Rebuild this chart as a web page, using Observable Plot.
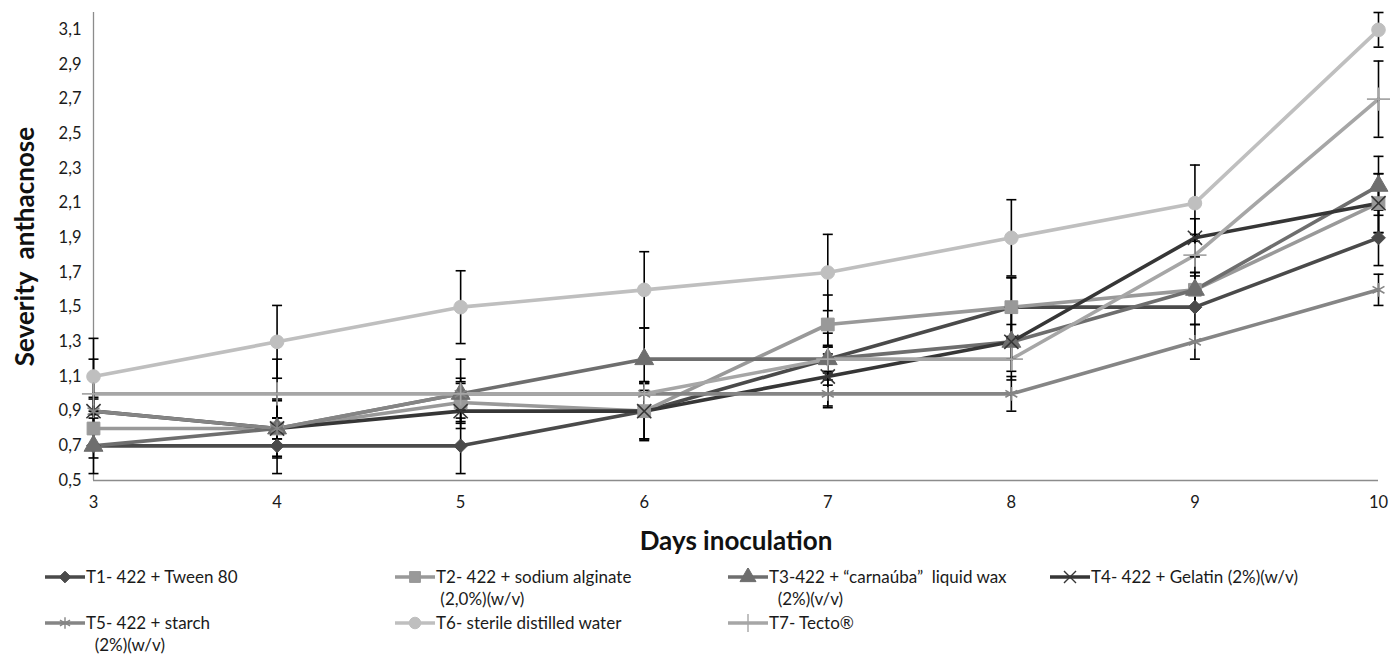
<!DOCTYPE html>
<html>
<head>
<meta charset="utf-8">
<script src="https://cdn.jsdelivr.net/npm/d3@7"></script>
<script src="https://cdn.jsdelivr.net/npm/@observablehq/plot@0.6"></script>
<style>
  body { margin: 0; background: #fff; }
  #wrap { position: relative; width: 1390px; height: 658px; font-family: Lato, "Open Sans", sans-serif; overflow: hidden; }
  #chart svg { display: block; }
  g[aria-label="x-axis label"] text, g[aria-label="y-axis label"] text { font-weight: 700; font-size: 26px; fill: #111; }
  .li { position: absolute; font-size: 17px; color: #1a1a1a; white-space: pre; line-height: 22px; transform: translateY(-50%); }
  .lk { position: absolute; transform: translateY(-50%); }
</style>
</head>
<body>
<div id="wrap">
  <div id="chart"></div>
</div>
<script>
// ---------- data ----------
const days = [3, 4, 5, 6, 7, 8, 9, 10];
const yTicks = [0.5, 0.7, 0.9, 1.1, 1.3, 1.5, 1.7, 1.9, 2.1, 2.3, 2.5, 2.7, 2.9, 3.1];

const seriesNames = [
  "T1- 422 + Tween 80",
  "T2- 422 + sodium alginate (2,0%)(w/v)",
  "T3-422 + “carnaúba”  liquid wax (2%)(v/v)",
  "T4- 422 + Gelatin (2%)(w/v)",
  "T5- 422 + starch (2%)(w/v)",
  "T6- sterile distilled water",
  "T7- Tecto®"
];

const t1 = [0.7, 0.7, 0.7, 0.9, 1.2, 1.5, 1.5, 1.9];
const t2 = [0.8, 0.8, 0.95, 0.9, 1.4, 1.5, 1.6, 2.1];
const t3 = [0.7, 0.8, 1.0, 1.2, 1.2, 1.3, 1.6, 2.2];
const t4 = [0.9, 0.8, 0.9, 0.9, 1.1, 1.3, 1.9, 2.1];
const t5 = [0.9, 0.8, 1.0, 1.0, 1.0, 1.0, 1.3, 1.6];
const t6 = [1.1, 1.3, 1.5, 1.6, 1.7, 1.9, 2.1, 3.1];
const t7 = [1.0, 1.0, 1.0, 1.0, 1.2, 1.2, 1.8, 2.7];

const e1 = [0.16, 0.16, 0.16, 0.16, 0.15, 0.17, 0.10, 0.16];
const e2 = [0.10, 0.17, 0.12, 0.17, 0.17, 0.17, 0.10, 0.17];
const e3 = [0.07, 0.06, 0.09, 0.18, 0.08, 0.10, 0.10, 0.17];
const e4 = [0.07, 0.16, 0.06, 0.16, 0.17, 0.17, 0.11, 0.17];
const e5 = [0.08, 0.06, 0.06, 0.07, 0.08, 0.10, 0.10, 0.09];
const e6 = [0.22, 0.21, 0.21, 0.22, 0.22, 0.22, 0.22, 0.10];
const e7 = [0.20, 0.20, 0.20, 0.07, 0.07, 0.12, 0.12, 0.22];

const values = [t1, t2, t3, t4, t5, t6, t7];
const errors = [e1, e2, e3, e4, e5, e6, e7];

// ---------- styles ----------
const colors = ["#4a4a4a", "#999999", "#6e6e6e", "#363636", "#858585", "#bfbfbf", "#a6a6a6"];
const symbols = ["diamond2", "square", "triangle", "times", "asterisk", "circle", "plus"];
const filled = [true, true, true, false, false, true, false];
const radii = [6.2, 7.2, 7, 6.5, 6.5, 6.8, 7.5];

const rows = seriesNames.flatMap((name, i) =>
  days.map((d, j) => ({ series: name, idx: i, day: d, value: values[i][j], err: errors[i][j] }))
);

const capSymbol = { draw(ctx) { ctx.moveTo(-5, 0); ctx.lineTo(5, 0); } };

const lineMarks = seriesNames.map((name, i) =>
  Plot.line(rows.filter(r => r.idx === i), { x: "day", y: "value", stroke: colors[i], strokeWidth: 3.6, strokeLinejoin: "round" })
);
const errMarks = [
  Plot.ruleX(rows, { x: "day", y1: r => r.value - r.err, y2: r => r.value + r.err, stroke: "#000", strokeWidth: 1.6 }),
  Plot.dot(rows, { x: "day", y: r => r.value + r.err, symbol: capSymbol, stroke: "#000", strokeWidth: 1.6, fill: "none" }),
  Plot.dot(rows, { x: "day", y: r => r.value - r.err, symbol: capSymbol, stroke: "#000", strokeWidth: 1.6, fill: "none" })
];
const dotMarks = seriesNames.map((name, i) =>
  Plot.dot(rows.filter(r => r.idx === i), {
    x: "day", y: "value", symbol: symbols[i], r: radii[i],
    fill: filled[i] ? colors[i] : "none",
    stroke: colors[i], strokeWidth: filled[i] ? 1 : 1.6
  })
);

const chart = Plot.plot({
  width: 1390,
  height: 555,
  marginLeft: 93,
  marginRight: 12,
  marginTop: 12,
  marginBottom: 75,
  style: { fontFamily: "Lato, 'Open Sans', sans-serif", fontSize: "16.5px", color: "#1a1a1a", background: "white", overflow: "visible" },
  x: { domain: [3, 10] },
  y: { domain: [0.5, 3.2] },
  marks: [
    Plot.axisX({ ticks: days, tickSize: 0, tickPadding: 16, tickFormat: d => String(d), label: "Days inoculation", labelAnchor: "center", labelOffset: 69, labelArrow: "none" }),
    Plot.axisY({ ticks: yTicks, tickSize: 0, tickPadding: 12, tickFormat: d => d.toFixed(1).replace(".", ","), label: "Severity  anthacnose", labelAnchor: "center", labelOffset: 78, labelArrow: "none" }),
    Plot.ruleX([3], { stroke: "#8c8c8c", strokeWidth: 1.3 }),
    Plot.ruleY([0.5], { stroke: "#8c8c8c", strokeWidth: 1.3 }),
    ...lineMarks,
    ...errMarks,
    ...dotMarks
  ]
});
document.getElementById("chart").appendChild(chart);

// ---------- legend (below the SVG area) ----------
const legendLayout = [
  { i: 0, x: 45, y: 577, lines: ["T1- 422 + Tween 80"] },
  { i: 1, x: 395, y: 577, lines: ["T2- 422 + sodium alginate", " (2,0%)(w/v)"] },
  { i: 2, x: 728, y: 577, lines: ["T3-422 + “carnaúba”  liquid wax", "  (2%)(v/v)"] },
  { i: 3, x: 1050, y: 577, lines: ["T4- 422 + Gelatin (2%)(w/v)"] },
  { i: 4, x: 45, y: 623, lines: ["T5- 422 + starch", "  (2%)(w/v)"] },
  { i: 5, x: 395, y: 623, lines: ["T6- sterile distilled water"] },
  { i: 6, x: 728, y: 623, lines: ["T7- Tecto®"] }
];
const d3sym = { diamond2: d3.symbolDiamond2, square: d3.symbolSquare, triangle: d3.symbolTriangle, times: d3.symbolTimes, asterisk: d3.symbolAsterisk, circle: d3.symbolCircle, plus: d3.symbolPlus };
const wrap = document.getElementById("wrap");
legendLayout.forEach(item => {
  const i = item.i;
  const key = document.createElementNS("http://www.w3.org/2000/svg", "svg");
  key.setAttribute("width", 40); key.setAttribute("height", 18);
  key.setAttribute("class", "lk");
  key.style.left = item.x + "px"; key.style.top = item.y + "px";
  const sel = d3.select(key);
  sel.append("line").attr("x1", 0).attr("x2", 40).attr("y1", 9).attr("y2", 9).attr("stroke", colors[i]).attr("stroke-width", 3.6);
  const size = Math.PI * Math.pow(radii[i] * 0.85, 2);
  sel.append("path").attr("transform", "translate(20,9)").attr("d", d3.symbol(d3sym[symbols[i]], size)())
    .attr("fill", filled[i] ? colors[i] : "none").attr("stroke", colors[i]).attr("stroke-width", filled[i] ? 1 : 1.4);
  const txt = document.createElement("div");
  txt.className = "li";
  txt.style.left = (item.x + 41) + "px";
  txt.style.top = (item.y + (item.lines.length - 1) * 11) + "px";
  txt.textContent = item.lines.join("\n");
  wrap.appendChild(key);
  wrap.appendChild(txt);
});
</script>
</body>
</html>
